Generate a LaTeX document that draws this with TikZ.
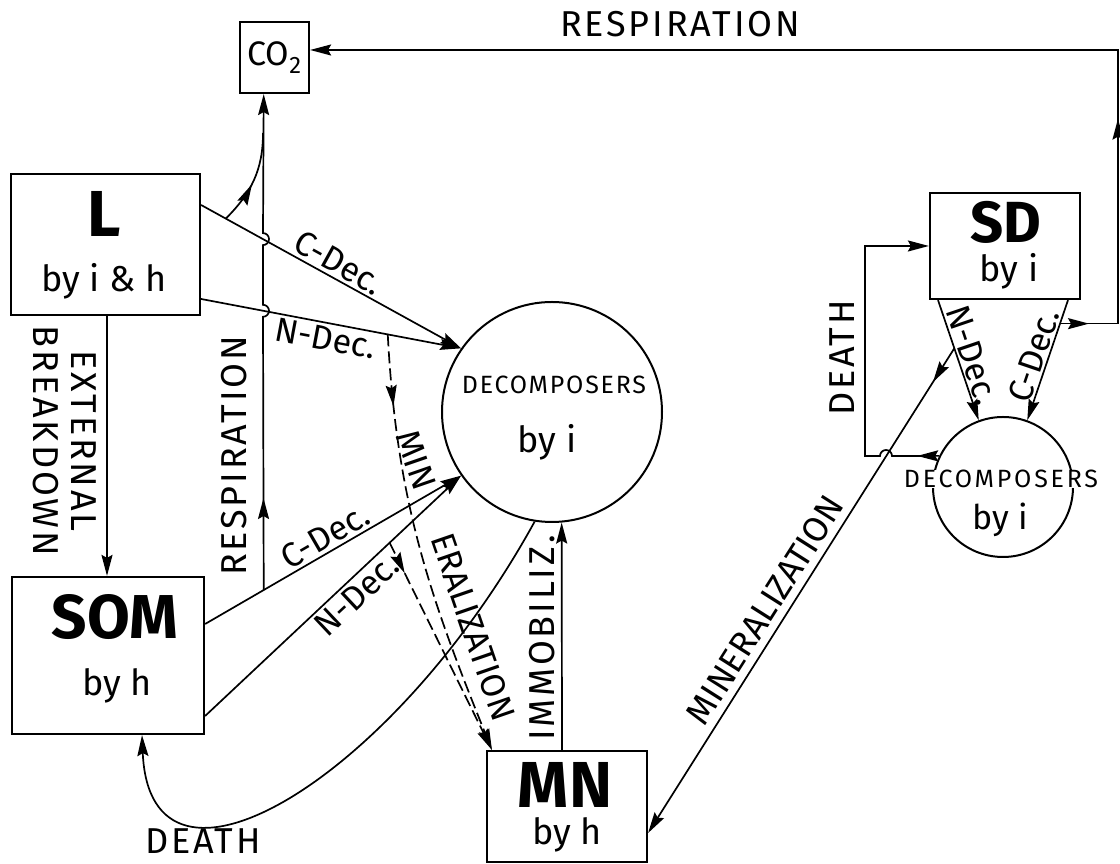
\documentclass[tikz,border=0pt]{standalone}
\usepackage{fontspec}
\setmainfont{Fira Sans}
\usetikzlibrary{arrows.meta}
\usetikzlibrary{decorations.markings}
\tikzset{>={Stealth[length=21pt,width=11pt,inset=3pt]}}
\tikzset{box/.style={draw, line width=2.2pt, inner sep=0pt}}
\tikzset{pool/.style={draw, circle, line width=2pt, inner sep=0pt}}
\tikzset{flow/.style={->, line width=1.7pt}}
\tikzset{lab/.style={font=\fontsize{34}{36}\selectfont, inner sep=3pt}}
\tikzset{widelab/.style={font=\fontsize{36}{38}\selectfont\addfontfeature{LetterSpace=8}, inner sep=3pt}}
\tikzset{poolname/.style={font=\fontsize{#1}{#1}\selectfont\bfseries, anchor=base, inner sep=0pt}}
\tikzset{byline/.style={font=\fontsize{36}{36}\selectfont, anchor=base, inner sep=0pt}}
\tikzset{midarrow/.style={postaction={decorate, decoration={markings, mark=at position #1 with {\arrow{>}}}}}}

\begin{document}
\begin{tikzpicture}[x=1pt, y=1pt]
        \useasboundingbox (0,0) rectangle (1120,864);

        % pools
        \node[box, minimum width=69, minimum height=71] (co2) at (274.5,806.5) {\fontsize{34}{34}\selectfont CO\textsubscript{2}};

        \node[box, minimum width=189, minimum height=141] (L) at (105.5,619.5) {};
        \node[poolname=65] (Lname) at (104,627) {L};
        \node[byline] (Lby) at (104,572) {by i \& h};

        \node[box, minimum width=192, minimum height=157] (SOM) at (108,208.5) {};
        \node[poolname=62] (SOMname) at (115,225) {SOM};
        \node[byline] (SOMby) at (117,168) {by h};

        \node[box, minimum width=160, minimum height=111] (MN) at (567,57.5) {};
        \node[poolname=65] (MNname) at (565,56) {MN};
        \node[byline] (MNby) at (567,19) {by h};

        \node[box, minimum width=150, minimum height=106] (SD) at (1005,618) {};
        \node[poolname=58] (SDname) at (1006,621) {SD};
        \node[byline] (SDby) at (1009,582) {by i};

        \node[pool, minimum size=220] (dec) at (552,452) {};
        \node[anchor=base, inner sep=0pt, font=\fontsize{25}{25}\selectfont\addfontfeature{LetterSpace=7}] (decname) at (554,470) {DECOMPOSERS};
        \node[byline] (decby) at (547,411) {by i};

        \node[pool, minimum size=140] (sdec) at (1003,377) {};
        \node[anchor=base, inner sep=0pt, fill=white, font=\fontsize{25}{25}\selectfont\addfontfeature{LetterSpace=11}] (sdecname) at (1001,376) {DECOMPOSERS};
        \node[byline, font=\fontsize{34}{34}\selectfont] (sdecby) at (1000,334) {by i};

        % litter and soil organic matter
        \draw[flow] ([xshift=1.5]L.south) -- ([xshift=-1]SOM.north);
        \draw[flow] ([yshift=39.5]L.east) -- node[lab, sloped, above, pos=0.5] (lc) {C-Dec.}
         coordinate[pos=0.095] (lresp) (dec.145);
        \draw[flow] ([yshift=-54.5]L.east) -- node[lab, sloped, below, pos=0.49] (ln) {N-Dec.}
         coordinate[pos=0.718] (lmin) (dec.145);
        \draw[flow] ([yshift=31.5]SOM.east) -- node[lab, sloped, above, pos=0.5] (sc) {C-Dec.}
         coordinate[pos=0.229] (sresp) (dec.215);
        \draw[flow] ([yshift=-60.5]SOM.east) -- node[lab, sloped, below, pos=0.55] (sn) {N-Dec.}
         coordinate[pos=0.721] (smin) (dec.215);

        % respiration
        \coordinate (rjoin) at (263,731);
        \draw[flow, midarrow=92pt] (sresp) -- (263,547.2)
         arc[start angle=-90, end angle=90, radius=6] -- (263,618.9)
         arc[start angle=-90, end angle=90, radius=6] -- (sresp |- co2.south);
        \draw[line width=1.7pt, midarrow=0.45] (lresp) to[out=45, in=-90] (rjoin);

        % mineralization and immobilization
        \draw[flow, dashed, dash pattern=on 12pt off 5pt, midarrow=72pt] (lmin) to[out=-87, in=112] ([xshift=6]MN.north west);
        \draw[flow, dashed, dash pattern=on 12pt off 5pt, midarrow=34pt] (smin) -- ([xshift=6]MN.north west);
        \draw[flow] ([xshift=-5]MN.north) -- (dec.275);

        % death
        \draw[flow] (dec.261) .. controls +(-143,-260) and +(8,-190) .. ([xshift=34]SOM.south);

        % standing dead
        \draw[flow] ([xshift=-67]SD.south) -- node[lab, sloped, above, pos=0.5, inner sep=2pt] (rn) {N-Dec.}
         coordinate[pos=0.401] (mstart) (sdec.110);
        \draw[<-, line width=1.7pt] (sdec.70) -- node[lab, sloped, above, pos=0.5, inner sep=2pt] (rc) {C-Dec.}
         coordinate[pos=0.804] (sdresp) ([xshift=63]SD.south);
        \coordinate (rtop) at (1118,814);
        \draw[flow, midarrow=29pt, midarrow=263pt] (sdresp) -| (rtop) -- ([yshift=7.5]co2.east);
        \draw[flow, midarrow=40pt] (mstart) -- ([yshift=-26.5]MN.east);
        \draw[flow, midarrow=22pt] (sdec.154) -- (892,408)
         arc[start angle=0, end angle=180, radius=6] -- (865,408) |- (SD.west);

        % labels
        \node[widelab, anchor=base] (resptop) at (680,827) {RESPIRATION};
        \node[widelab, rotate=90] (respleft) at (234,408) {RESPIRATION};
        \node[widelab, rotate=-90, align=center] (ext) at (65,423) {EXTERNAL\\BREAKDOWN};
        \node[widelab, rotate=90] (immo) at (542,226) {IMMOBILIZ.};
        \node[widelab, rotate=90] (deathright) at (842,506) {DEATH};
        \node[widelab, anchor=base] (deathleft) at (203,10) {DEATH};
        \node[lab, rotate=-71] (minA) at (416,404) {MIN};
        \node[lab, rotate=-71] (minB) at (473,237) {ERALIZATION};
        \node[lab, font=\fontsize{35}{36}\selectfont, rotate=57.6] (minC) at (765,254) {MINERALIZATION};
\end{tikzpicture}
\end{document}
